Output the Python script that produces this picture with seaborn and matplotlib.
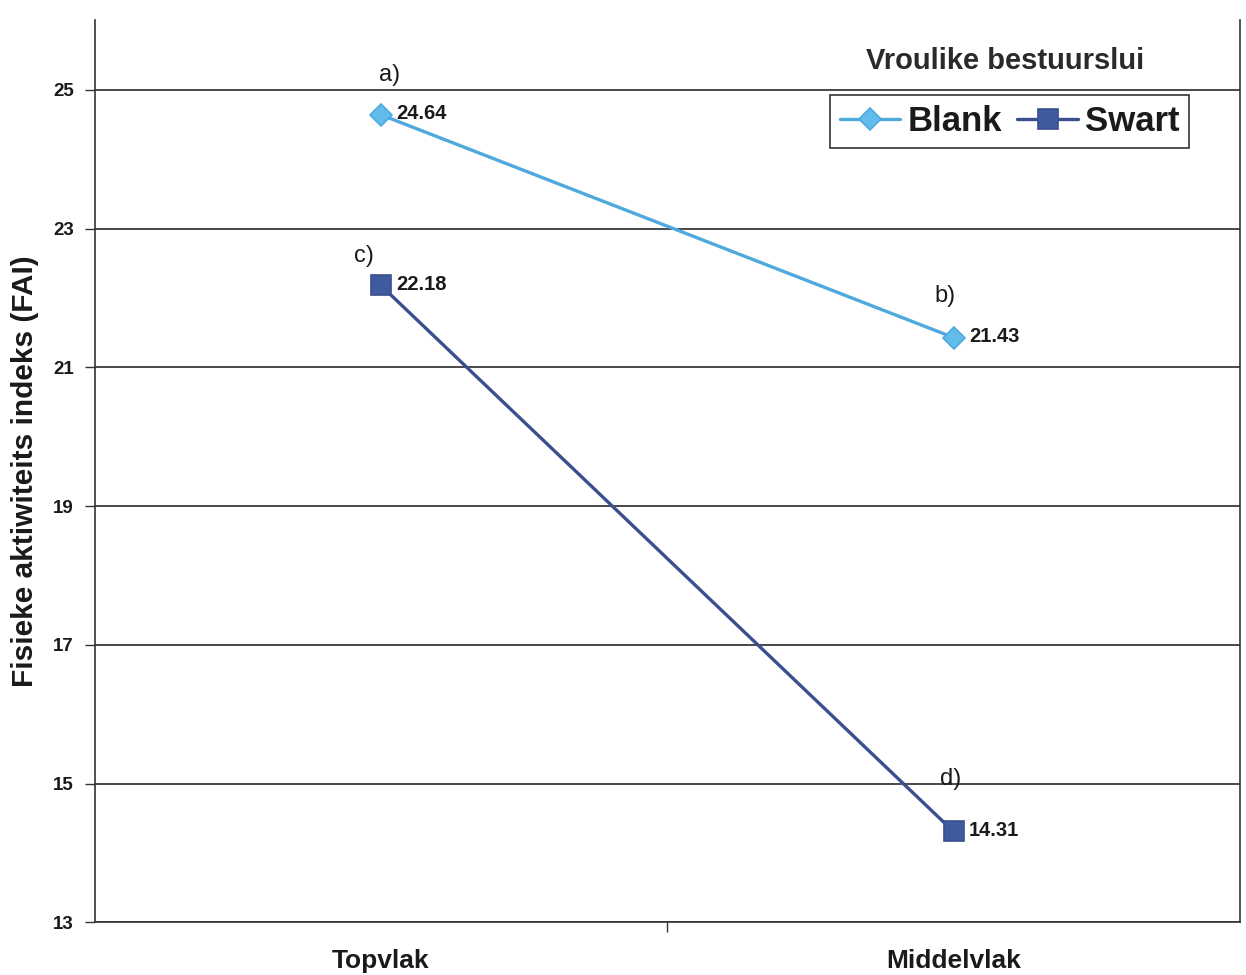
import matplotlib
matplotlib.use("Agg")
import matplotlib.pyplot as plt
import seaborn as sns
import pandas as pd

# Values
categories = ["Topvlak", "Middelvlak"]
groups = ["Blank", "Swart"]
blank_values = [24.64, 21.43]
swart_values = [22.18, 14.31]
point_letters = {"Blank": ["a)", "b)"], "Swart": ["c)", "d)"]}
y_ticks = [13, 15, 17, 19, 21, 23, 25]
legend_title = "Vroulike bestuurslui"
y_label = "Fisieke aktiwiteits indeks (FAI)"

sns.set_theme(style="white")
plt.rcParams["font.family"] = ["Liberation Sans", "DejaVu Sans"]

df = pd.DataFrame({
    "pos": [0, 1, 0, 1],
    "value": blank_values + swart_values,
    "group": ["Blank"] * 2 + ["Swart"] * 2,
})

ink = "#1a1a1a"
colors = {"Blank": "#4EA9DE", "Swart": "#3B4F8E"}
face = {"Blank": "#62BCEB", "Swart": "#3F5A9E"}
markers = {"Blank": "D", "Swart": "s"}
msize = {"Blank": 11, "Swart": 14}

fig = plt.figure(figsize=(12.46, 9.75), dpi=100)
ax = fig.add_axes([0.076, 0.054, 0.919, 0.925])

for g in groups:
    sub = df[df["group"] == g]
    sns.lineplot(data=sub, x="pos", y="value", ax=ax, color=colors[g],
                 linewidth=2.4, marker=markers[g], markersize=msize[g],
                 markerfacecolor=face[g], markeredgecolor=colors[g],
                 markeredgewidth=1.2, label=g, zorder=3)

# value labels and point letters
letter_offsets = {"Blank": [(6, 29), (-6, 30)], "Swart": [(-12, 21), (-2, 38)]}
for g, vals in (("Blank", blank_values), ("Swart", swart_values)):
    for i, v in enumerate(vals):
        ax.annotate(f"{v:.2f}", (i, v), xytext=(11, 1), textcoords="offset points",
                    ha="left", va="center", fontsize=14.5, fontweight="bold",
                    color=ink)
        ax.annotate(point_letters[g][i], (i, v), xytext=letter_offsets[g][i],
                    textcoords="offset points", ha="center", va="center",
                    fontsize=17, color=ink)

ax.set_xlim(-0.5, 1.5)
ax.set_ylim(13, 26)
ax.set_yticks(y_ticks)
ax.set_yticklabels([str(t) for t in y_ticks], fontsize=13.5, fontweight="bold",
                   color=ink)
ax.set_xticks([0, 1])
ax.set_xticklabels(categories, fontsize=19, fontweight="bold", color=ink)
ax.tick_params(axis="x", length=0, pad=19)
ax.set_xticks([0.5], minor=True)
ax.tick_params(axis="x", which="minor", direction="out", length=7, width=1,
               color="#333333", bottom=True)
ax.tick_params(axis="y", direction="out", length=7, width=1, color="#333333",
               left=True, pad=8)
ax.set_xlabel("")
ax.set_ylabel(y_label, fontsize=21.5, fontweight="bold", color=ink, labelpad=10)

ax.yaxis.grid(True, color="#2a2a2a", linewidth=1.2)
ax.set_axisbelow(True)
for side in ("left", "bottom", "right"):
    ax.spines[side].set_visible(True)
    ax.spines[side].set_color("#333333")
    ax.spines[side].set_linewidth(1.2)
ax.spines["top"].set_visible(False)

leg = ax.legend(loc="upper right", bbox_to_anchor=(0.956, 0.917), ncol=2,
                frameon=True, fancybox=False, framealpha=1, edgecolor="#333333",
                borderaxespad=0, handlelength=1.75, handletextpad=0.2,
                columnspacing=0.45, borderpad=0.28,
                prop={"size": 25, "weight": "bold"})
leg.get_frame().set_linewidth(1.2)
for t in leg.get_texts():
    t.set_color(ink)

ax.text(0.795, 0.955, legend_title, transform=ax.transAxes, ha="center",
        va="center", fontsize=21, fontweight="bold", color="#2a2a2a")

fig.savefig("out.png", dpi=100)
